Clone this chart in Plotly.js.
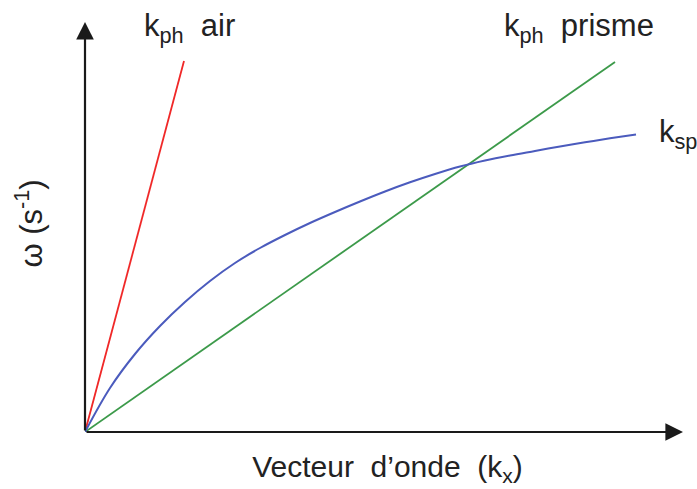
<!DOCTYPE html>
<html>
<head>
<meta charset="utf-8">
<script src="https://cdn.plot.ly/plotly-3.0.1.min.js"></script>
<style>
  html, body { margin: 0; padding: 0; background: #ffffff; }
  #chart { width: 697px; height: 489px; }
</style>
</head>
<body>
<div id="chart"></div>
<script>
// Dispersion relations: light line in air, light line in the prism, surface plasmon
const airX = [0, 0.99];
const airY = [0, 3.71];

const prismeX = [0, 5.30];
const prismeY = [0, 3.70];

const spX = [0, 0.25, 0.50, 0.75, 1.00, 1.25, 1.50, 1.75, 2.00, 2.25, 2.50, 2.75,
             3.00, 3.25, 3.50, 3.75, 4.00, 4.25, 4.50, 4.75, 5.00, 5.25, 5.51];
const spY = [0, 0.44, 0.78, 1.06, 1.30, 1.51, 1.69, 1.84, 1.97, 2.09, 2.20, 2.305,
             2.405, 2.497, 2.58, 2.655, 2.715, 2.765, 2.81, 2.855, 2.897, 2.937, 2.975];

// Curve labels
const labelText = ['k<sub>ph</sub>\u00a0\u00a0air', 'k<sub>ph</sub>\u00a0\u00a0prisme', 'k<sub>sp</sub>'];
const labelX = [0.57, 4.17, 5.72];
const labelY = [4.04, 4.04, 2.98];

// Axis extents (arrow tips)
const axisEnd = { x: 5.98, y: 4.10 };

const family = 'Liberation Sans, Arial, sans-serif';
const labelFont = { family: family, size: 31, color: '#222222' };

const traces = [
  { x: airX, y: airY, mode: 'lines', line: { color: '#f02828', width: 1.8 }, hoverinfo: 'skip' },
  { x: prismeX, y: prismeY, mode: 'lines', line: { color: '#3c9a4a', width: 1.8 }, hoverinfo: 'skip' },
  { x: spX, y: spY, mode: 'lines', line: { color: '#4b5bbd', width: 2, shape: 'spline', smoothing: 1 }, hoverinfo: 'skip' }
];

const annotations = labelText.map((t, i) => ({
  x: labelX[i], y: labelY[i], xref: 'x', yref: 'y',
  text: t, showarrow: false, xanchor: 'left', yanchor: 'middle',
  font: labelFont
}));

// Axis lines drawn as arrows from the origin
const arrowStyle = {
  text: '', showarrow: true, arrowhead: 2, arrowsize: 1.6, arrowwidth: 2.2,
  arrowcolor: '#1a1a1a', xref: 'x', yref: 'y', axref: 'x', ayref: 'y', standoff: 0
};
annotations.push(Object.assign({ x: axisEnd.x, y: 0, ax: 0, ay: 0 }, arrowStyle));
annotations.push(Object.assign({ x: 0, y: axisEnd.y, ax: 0, ay: 0 }, arrowStyle));

const layout = {
  width: 697, height: 489,
  margin: { l: 85, r: 7, t: 15, b: 57 },
  paper_bgcolor: '#ffffff', plot_bgcolor: '#ffffff',
  showlegend: false,
  xaxis: {
    range: [0, 6.05], showgrid: false, zeroline: false, showline: false,
    showticklabels: false, ticks: '', fixedrange: true,
    title: {
      text: 'Vecteur\u00a0\u00a0d\u2019onde\u00a0\u00a0(k<sub>x</sub>)',
      font: { family: family, size: 30, color: '#222222' }, standoff: 23
    }
  },
  yaxis: {
    range: [0, 4.17], showgrid: false, zeroline: false, showline: false,
    showticklabels: false, ticks: '', fixedrange: true,
    title: {
      text: '\u03c9\u00a0(s<sup>-1</sup>)',
      font: { family: family, size: 31, color: '#222222' }, standoff: 32
    }
  },
  annotations: annotations
};

Plotly.newPlot('chart', traces, layout, { staticPlot: true, displayModeBar: false });
</script>
</body>
</html>
